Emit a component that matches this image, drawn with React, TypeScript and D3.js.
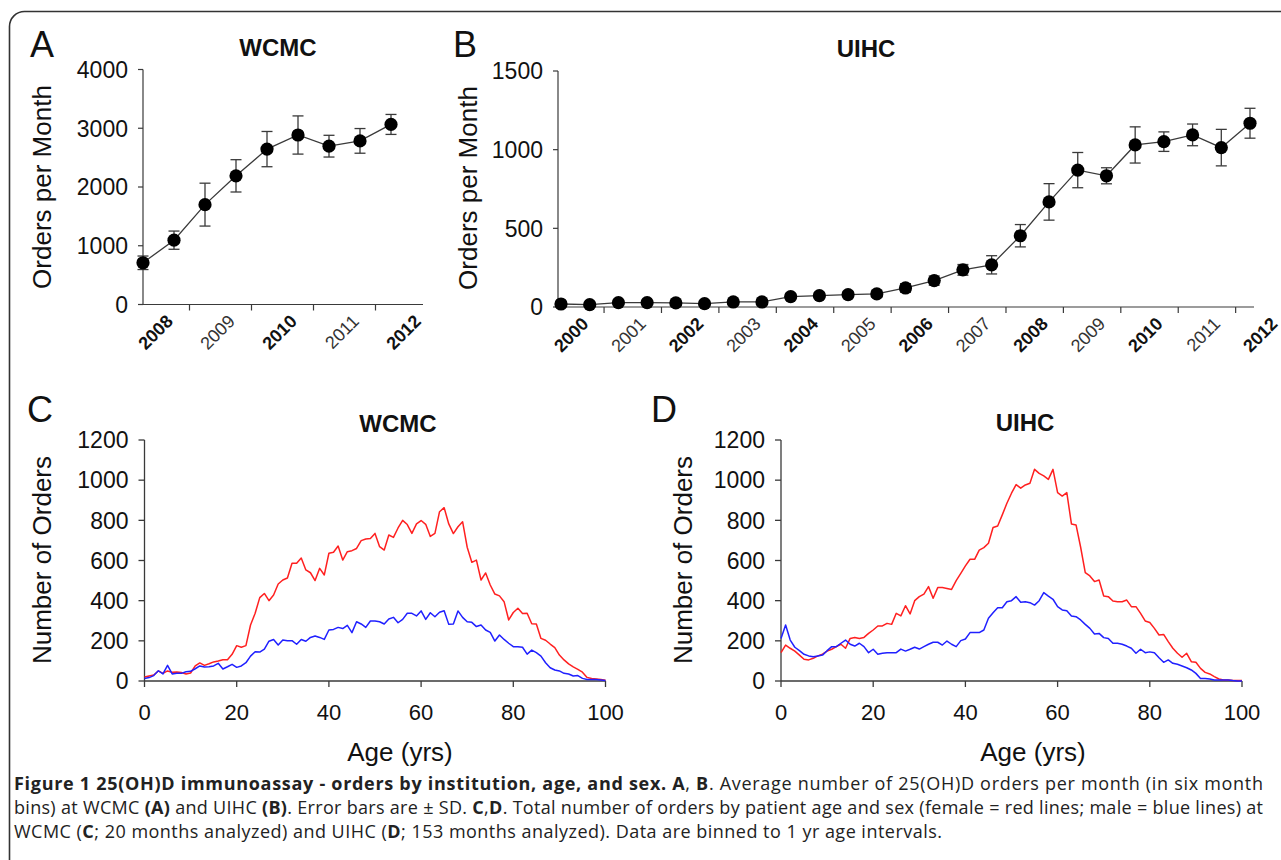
import React from "react";
import * as d3 from "d3";

// ---------- DATA ----------
const wcmcYears = ["2008", "2009", "2010", "2011", "2012"];
const wcmcMean = [710, 1095, 1700, 2190, 2645, 2885, 2695, 2785, 3065];
const wcmcSD = [115, 155, 365, 275, 300, 325, 185, 210, 170];

const uihcYears = ["2000", "2001", "2002", "2003", "2004", "2005", "2006", "2007", "2008", "2009", "2010", "2011", "2012"];
const uihcMean = [19, 15, 28, 28, 26, 21, 32, 32, 66, 72, 79, 83, 121, 168, 236, 268, 453, 668, 870, 834, 1030, 1051, 1094, 1013, 1168];
const uihcSD = [8, 8, 8, 8, 8, 8, 8, 8, 20, 20, 20, 20, 27, 29, 34, 58, 71, 116, 112, 51, 115, 62, 69, 116, 95];

const ageTicks = [0, 20, 40, 60, 80, 100];
const countTicks = [0, 200, 400, 600, 800, 1000, 1200];
const wcmcTicks = [0, 1000, 2000, 3000, 4000];
const uihcTicks = [0, 500, 1000, 1500];

// female (red) and male (blue) orders by age 0..100
const wcmcFemale = [20, 25, 30, 50, 38, 50, 43, 45, 42, 35, 40, 75, 90, 78, 86, 95, 100, 106, 106, 133, 176, 168, 176, 279, 337, 415, 436, 400, 428, 483, 503, 513, 586, 586, 612, 553, 539, 500, 561, 528, 636, 641, 672, 602, 644, 649, 660, 699, 707, 710, 735, 669, 652, 727, 715, 762, 800, 779, 735, 782, 799, 780, 720, 735, 843, 863, 782, 734, 768, 793, 666, 591, 602, 503, 538, 478, 433, 424, 395, 304, 341, 362, 336, 337, 285, 284, 212, 203, 184, 166, 129, 105, 85, 70, 58, 44, 18, 12, 10, 7, 4];
const wcmcMale = [13, 17, 27, 51, 35, 78, 35, 38, 38, 46, 48, 61, 75, 70, 71, 75, 88, 60, 71, 83, 68, 75, 91, 124, 146, 144, 159, 198, 207, 179, 204, 201, 201, 183, 207, 198, 217, 224, 217, 207, 254, 257, 267, 261, 277, 241, 295, 284, 267, 299, 299, 295, 284, 309, 317, 290, 307, 337, 337, 324, 349, 307, 340, 320, 342, 350, 282, 284, 349, 317, 295, 292, 271, 279, 254, 242, 199, 229, 207, 188, 171, 171, 168, 134, 154, 141, 124, 91, 66, 55, 50, 38, 35, 25, 27, 13, 8, 8, 7, 5, 3];
const uihcFemale = [141, 179, 163, 149, 129, 108, 105, 113, 125, 134, 149, 158, 171, 183, 163, 212, 217, 212, 217, 237, 254, 274, 274, 287, 282, 337, 324, 375, 334, 400, 420, 433, 470, 412, 465, 465, 461, 456, 500, 536, 573, 606, 606, 652, 664, 686, 764, 772, 827, 885, 935, 978, 960, 976, 985, 1054, 1034, 1021, 1004, 1054, 938, 921, 938, 782, 777, 666, 540, 523, 495, 503, 423, 420, 398, 395, 395, 403, 370, 370, 337, 299, 291, 262, 229, 232, 196, 163, 138, 118, 138, 96, 93, 63, 43, 35, 22, 10, 5, 5, 3, 2, 2];
const uihcMale = [212, 279, 204, 168, 151, 133, 125, 121, 125, 129, 151, 171, 171, 188, 204, 183, 174, 188, 171, 141, 158, 133, 138, 141, 141, 141, 159, 149, 158, 168, 159, 171, 183, 193, 193, 179, 199, 183, 171, 201, 209, 241, 241, 241, 254, 312, 340, 365, 365, 395, 400, 420, 392, 395, 390, 378, 400, 440, 423, 407, 370, 354, 350, 324, 320, 304, 282, 262, 234, 237, 216, 212, 188, 188, 183, 174, 163, 138, 158, 141, 145, 141, 116, 93, 105, 88, 83, 75, 66, 55, 38, 13, 13, 10, 5, 5, 5, 5, 2, 0, 0];

// ---------- STYLE ----------
const FONT = "'Liberation Sans', Arial, Helvetica, sans-serif";
const CAP_FONT = "'Open Sans', 'Noto Sans', sans-serif";
const AX = "#3a3a3a";
const TXT = "#111";
const RED = "#ff2020";
const BLUE = "#2020ff";

type EPProps = {
  years: string[];
  mean: number[];
  sd: number[];
  x: d3.ScaleLinear<number, number>;
  y: d3.ScaleLinear<number, number>;
  yTicks: number[];
  axisX: number;
  xEnd: number;
};

function ErrorPanel({ years, mean, sd, x, y, yTicks, axisX, xEnd }: EPProps) {
  const y0 = y(0);
  const line = d3
    .line<number>()
    .x((_, i) => x(i))
    .y((d) => y(d));
  const cap = 5.5;
  return (
    <g>
      <line x1={axisX} x2={axisX} y1={y0} y2={y(yTicks[yTicks.length - 1])} stroke={AX} strokeWidth={1.2} />
      {yTicks.map((t) => (
        <g key={t}>
          <line x1={axisX - 5} x2={axisX} y1={y(t)} y2={y(t)} stroke={AX} strokeWidth={1.2} />
          <text x={axisX - 15} y={y(t)} dy="0.36em" textAnchor="end" fontSize={23} fontFamily={FONT} fill={TXT}>
            {t}
          </text>
        </g>
      ))}
      <line x1={axisX} x2={xEnd} y1={y0} y2={y0} stroke={AX} strokeWidth={1.2} />
      {d3.range(1.5, mean.length - 1, 2).map((t) => (
        <line key={t} x1={x(t)} x2={x(t)} y1={y0} y2={y0 + 6} stroke={AX} strokeWidth={1.2} />
      ))}
      {years.map((yr, k) => {
        const ax = x(2 * k + 1);
        const ay = y0 + 18;
        const bold = k % 2 === 0;
        return (
          <text
            key={yr}
            x={ax}
            y={ay}
            transform={`rotate(-45 ${ax} ${ay})`}
            textAnchor="end"
            fontSize={18}
            fontFamily={FONT}
            fontWeight={bold ? 700 : 400}
            fill={bold ? TXT : "#333"}
          >
            {yr}
          </text>
        );
      })}
      <path d={line(mean) || ""} fill="none" stroke={AX} strokeWidth={1.3} />
      {mean.map((m, i) => (
        <g key={i} stroke={AX} strokeWidth={1.3}>
          <line x1={x(i)} x2={x(i)} y1={y(m - sd[i])} y2={y(m + sd[i])} />
          <line x1={x(i) - cap} x2={x(i) + cap} y1={y(m + sd[i])} y2={y(m + sd[i])} />
          <line x1={x(i) - cap} x2={x(i) + cap} y1={y(m - sd[i])} y2={y(m - sd[i])} />
        </g>
      ))}
      {mean.map((m, i) => (
        <circle key={i} cx={x(i)} cy={y(m)} r={6.6} fill="#000" />
      ))}
    </g>
  );
}

type APProps = {
  female: number[];
  male: number[];
  x: d3.ScaleLinear<number, number>;
  y: d3.ScaleLinear<number, number>;
};

function AgePanel({ female, male, x, y }: APProps) {
  const y0 = y(0);
  const line = d3
    .line<number>()
    .x((_, i) => x(i))
    .y((d) => y(d));
  const x0 = x(0);
  return (
    <g>
      <line x1={x0} x2={x0} y1={y0} y2={y(1200)} stroke={AX} strokeWidth={1.3} />
      {countTicks.map((t) => (
        <g key={t}>
          <line x1={x0 - 6} x2={x0} y1={y(t)} y2={y(t)} stroke={AX} strokeWidth={1.3} />
          <text x={x0 - 16} y={y(t)} dy="0.36em" textAnchor="end" fontSize={23} fontFamily={FONT} fill={TXT}>
            {t}
          </text>
        </g>
      ))}
      <line x1={x0} x2={x(100)} y1={y0} y2={y0} stroke={AX} strokeWidth={1.3} />
      {ageTicks.map((t) => (
        <g key={t}>
          <line x1={x(t)} x2={x(t)} y1={y0} y2={y0 + 6} stroke={AX} strokeWidth={1.3} />
          <text x={x(t)} y={y0 + 39} textAnchor="middle" fontSize={22} fontFamily={FONT} fill={TXT}>
            {t}
          </text>
        </g>
      ))}
      <path d={line(female) || ""} fill="none" stroke={RED} strokeWidth={1.5} strokeLinejoin="round" />
      <path d={line(male) || ""} fill="none" stroke={BLUE} strokeWidth={1.5} strokeLinejoin="round" />
    </g>
  );
}

export default function App() {
  const xA = d3.scaleLinear().domain([0, wcmcMean.length - 1]).range([143, 391]);
  const yA = d3.scaleLinear().domain([0, 4000]).range([304.5, 69.5]);
  const xB = d3.scaleLinear().domain([0, uihcMean.length - 1]).range([561, 1250]);
  const yB = d3.scaleLinear().domain([0, 1500]).range([307, 71]);
  const xC = d3.scaleLinear().domain([0, 100]).range([144.5, 605.5]);
  const yC = d3.scaleLinear().domain([0, 1200]).range([681, 440]);
  const xD = d3.scaleLinear().domain([0, 100]).range([781, 1242]);
  const yD = d3.scaleLinear().domain([0, 1200]).range([681, 440]);

  const letter = (t: string, x: number, y: number) => (
    <text x={x} y={y} fontSize={36} fontFamily={FONT} fill={TXT}>
      {t}
    </text>
  );
  const title = (t: string, x: number, y: number) => (
    <text x={x} y={y} textAnchor="middle" fontSize={24} fontWeight={700} fontFamily={FONT} fill={TXT}>
      {t}
    </text>
  );
  const ylabel = (t: string, x: number, y: number) => (
    <text x={x} y={y} transform={`rotate(-90 ${x} ${y})`} textAnchor="middle" fontSize={26} fontFamily={FONT} fill={TXT}>
      {t}
    </text>
  );

  return (
    <svg width={1281} height={860} style={{ position: "absolute", left: 0, top: 0, background: "#fff" }}>
      <rect x={9.5} y={11.5} width={1300} height={880} rx={15} ry={15} fill="none" stroke="#333" strokeWidth={1.6} />

      {letter("A", 30, 57)}
      {letter("B", 453, 57)}
      {letter("C", 27, 422)}
      {letter("D", 651, 422)}

      {title("WCMC", 278, 56)}
      {title("UIHC", 866, 57)}
      {title("WCMC", 398, 432)}
      {title("UIHC", 1025, 431)}

      {ylabel("Orders per Month", 51, 187)}
      {ylabel("Orders per Month", 477, 188)}
      {ylabel("Number of Orders", 51, 560)}
      {ylabel("Number of Orders", 692, 560)}

      <ErrorPanel years={wcmcYears} mean={wcmcMean} sd={wcmcSD} x={xA} y={yA} yTicks={wcmcTicks} axisX={143} xEnd={423} />
      <ErrorPanel years={uihcYears} mean={uihcMean} sd={uihcSD} x={xB} y={yB} yTicks={uihcTicks} axisX={558} xEnd={1254} />

      <AgePanel female={wcmcFemale} male={wcmcMale} x={xC} y={yC} />
      <AgePanel female={uihcFemale} male={uihcMale} x={xD} y={yD} />

      <text x={400} y={761} textAnchor="middle" fontSize={26} fontFamily={FONT} fill={TXT}>
        Age (yrs)
      </text>
      <text x={1033} y={761} textAnchor="middle" fontSize={26} fontFamily={FONT} fill={TXT}>
        Age (yrs)
      </text>

      <g fontFamily={CAP_FONT} fontSize={18} fill="#222">
        <text x={14} y={790} textLength={1249} lengthAdjust="spacing">
          <tspan fontWeight={700}>Figure 1 25(OH)D immunoassay - orders by institution, age, and sex. A</tspan>
          <tspan>, </tspan>
          <tspan fontWeight={700}>B</tspan>
          <tspan>. Average number of 25(OH)D orders per month (in six month</tspan>
        </text>
        <text x={14} y={814} textLength={1249} lengthAdjust="spacing">
          <tspan>bins) at WCMC </tspan>
          <tspan fontWeight={700}>(A)</tspan>
          <tspan> and UIHC </tspan>
          <tspan fontWeight={700}>(B)</tspan>
          <tspan>. Error bars are ± SD. </tspan>
          <tspan fontWeight={700}>C</tspan>
          <tspan>,</tspan>
          <tspan fontWeight={700}>D</tspan>
          <tspan>. Total number of orders by patient age and sex (female = red lines; male = blue lines) at</tspan>
        </text>
        <text x={14} y={838} textLength={928} lengthAdjust="spacing">
          <tspan>WCMC (</tspan>
          <tspan fontWeight={700}>C</tspan>
          <tspan>; 20 months analyzed) and UIHC (</tspan>
          <tspan fontWeight={700}>D</tspan>
          <tspan>; 153 months analyzed). Data are binned to 1 yr age intervals.</tspan>
        </text>
      </g>
    </svg>
  );
}
